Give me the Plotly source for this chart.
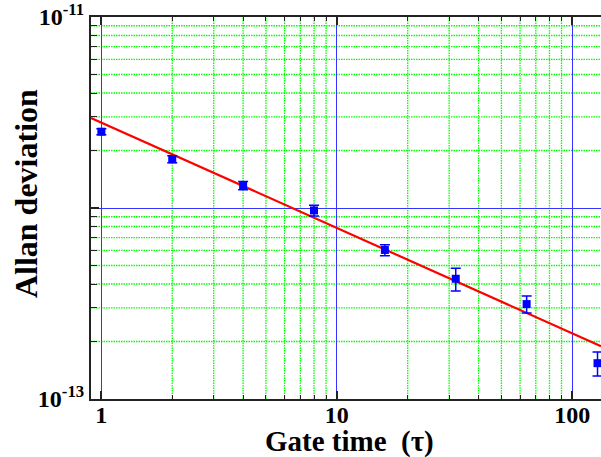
import plotly.graph_objects as go

# Data
tau = [1, 2, 4, 8, 16, 32, 64, 128]
adev = [2.51e-12, 1.80e-12, 1.31e-12, 0.971e-12, 6.03e-13, 4.26e-13, 3.14e-13, 1.54e-13]
adev_err = [0.09e-12, 0.075e-12, 0.065e-12, 0.062e-12, 0.4e-13, 0.58e-13, 0.32e-13, 0.22e-13]

# Fitted line end points
fit_tau = [0.904, 132.4]
fit_adev = [2.96e-12, 1.89e-13]

x_ticks = [1, 10, 100]
x_ticktext = ["1", "10", "100"]
x_minor = [2, 3, 4, 5, 6, 7, 8, 9, 20, 30, 40, 50, 60, 70, 80, 90]
y_ticks = [1e-13, 1e-12, 1e-11]
y_ticktext = ["10<sup>-13</sup>", " ", "10<sup>-11</sup>"]
y_minor = [k * 1e-13 for k in range(2, 10)] + [k * 1e-12 for k in range(2, 10)]

x_title = "Gate time\u2002(τ)"
y_title = "Allan deviation"

FONT = "Liberation Serif, Times New Roman, serif"
GREEN = "#00ff00"

fig = go.Figure()

# minor grid (green dotted) drawn from the minor tick arrays
for xv in x_minor:
    fig.add_shape(type="line", xref="x", yref="paper", x0=xv, x1=xv, y0=0, y1=1,
                  line=dict(color=GREEN, width=1.3, dash="1.5px,1px"), layer="below")
for yv in y_minor:
    fig.add_shape(type="line", xref="paper", yref="y", x0=0, x1=1, y0=yv, y1=yv,
                  line=dict(color=GREEN, width=1.3, dash="1.5px,1px"), layer="below")

fig.add_trace(go.Scatter(
    x=fit_tau, y=fit_adev, mode="lines",
    line=dict(color="#ff0000", width=2.2), hoverinfo="skip", showlegend=False,
))
fig.add_trace(go.Scatter(
    x=tau, y=adev, mode="markers",
    marker=dict(symbol="square", size=8, color="#0000ff"),
    error_y=dict(type="data", array=adev_err, color="#0000ff", thickness=1.5, width=5),
    showlegend=False, cliponaxis=False,
))

fig.add_annotation(text=x_title, xref="paper", yref="paper", x=0.507, y=-0.11,
                   xanchor="center", yanchor="middle", showarrow=False,
                   font=dict(family=FONT, size=29, weight="bold", color="black"))
fig.add_annotation(text=y_title, xref="paper", yref="paper", x=-0.127, y=0.537,
                   xanchor="center", yanchor="middle", showarrow=False, textangle=-90,
                   font=dict(family=FONT, size=32, weight="bold", color="black"))

fig.update_layout(
    width=601, height=457,
    margin=dict(l=91, r=0, t=17, b=58),
    paper_bgcolor="white", plot_bgcolor="white",
    font=dict(family=FONT, color="black"),
    xaxis=dict(
        type="log", range=[-0.044, 2.122], automargin=False,
        tickmode="array", tickvals=x_ticks, ticktext=x_ticktext,
        ticks="inside", ticklen=8, tickwidth=1.5, tickcolor="#222",
        showline=True, linecolor="#222", linewidth=2, mirror="allticks",
        showgrid=True, gridcolor="#3333ff", gridwidth=1.2,
        tickfont=dict(family=FONT, size=24, weight="bold"),
        ticklabelstandoff=-7, ticklabeloverflow="allow",
        minor=dict(tickmode="array", tickvals=x_minor, ticks="inside", ticklen=4,
                   tickcolor="#222", tickwidth=1, showgrid=False),
        zeroline=False,
    ),
    yaxis=dict(
        type="log", range=[-13, -11], automargin=False,
        tickmode="array", tickvals=y_ticks, ticktext=y_ticktext,
        ticks="inside", ticklen=8, tickwidth=1.5, tickcolor="#222",
        showline=True, linecolor="#222", linewidth=2, mirror=False,
        showgrid=True, gridcolor="#3333ff", gridwidth=1.2,
        tickfont=dict(family=FONT, size=24, weight="bold"),
        ticklabeloverflow="allow",
        minor=dict(tickmode="array", tickvals=y_minor, ticks="inside", ticklen=6,
                   tickcolor="#222", tickwidth=1, showgrid=False),
        zeroline=False,
    ),
)

fig.write_html("out.html", config={"displayModeBar": False},
               post_script="document.body.style.margin='0';document.body.style.overflow='hidden';")
